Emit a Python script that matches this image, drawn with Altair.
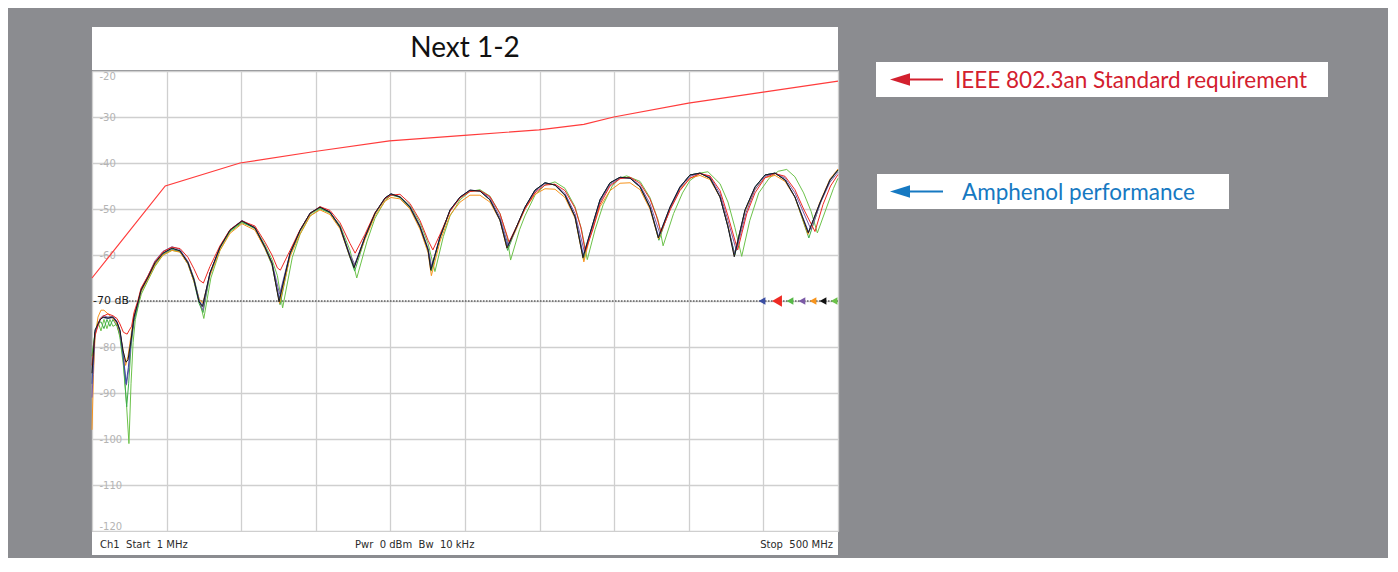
import altair as alt
import pandas as pd

# ---------------- data ----------------
title_text = "Next 1-2"
NB = "\u00a0"
footer_texts = [f"Ch1{NB}{NB}Start{NB}{NB}1 MHz", f"Pwr{NB}{NB}0 dBm{NB}{NB}Bw{NB}{NB}10 kHz", f"Stop{NB}{NB}500 MHz"]
annotation_texts = ["IEEE 802.3an Standard requirement", "Amphenol performance"]
annotation_colors = ["#d3202e", "#1679c2"]

ref_level = [-70]
ref_label = ["-70 dB"]

marker_freqs = [449.2, 459.2, 467.9, 475.9, 483.3, 490.0, 497.4]
marker_colors = ["#3b4ea3", "#ee2a24", "#56b947", "#7b5aa6", "#f7941d", "#111111", "#6cc24a"]
marker_sizes = [60, 130, 60, 60, 60, 60, 60]

y_ticks = [-120, -110, -100, -90, -80, -70, -60, -50, -40, -30, -20]
x_grid = [1, 50.9, 100.8, 150.7, 200.6, 250.5, 300.4, 350.3, 400.2, 450.1, 500]

limit_freqs = [1, 50, 100, 150, 200, 250, 300, 330, 350, 400, 450, 500]
limit_db = [-65, -45, -40, -37.5, -35.2, -34.0, -32.8, -31.6, -30.0, -27.0, -24.6, -22.2]

trace_green1 = [(1,-82),(3,-77),(5,-74.5),(7,-76.5),(9,-74),(11,-76),(13,-74),(15,-75.5),(17.7,-75),(19.7,-78),(22,-84),(24,-92),(25.7,-101),(27.1,-88),(28.5,-79),(30,-74),(32,-71),(34,-68.5),(38.5,-65.5),(43.1,-62.5),(48.5,-60),(54.5,-59),(59.9,-59.3),(65.2,-61.5),(69.2,-65),(72.6,-69.5),(75.8,-73.8),(80.5,-65),(86.6,-59),(93.3,-55),(101.3,-53),(110,-54),(116.7,-57.8),(121.4,-61),(125,-64.5),(128.5,-71.5),(135,-60.5),(140.2,-55.5),(146.9,-51.5),(153.5,-50),(160.2,-50.8),(166.9,-53.5),(173.6,-59),(178.1,-65),(185,-57),(190.3,-52),(197,-48.2),(201,-47),(207,-47.3),(213.7,-49.2),(220.4,-53),(225.8,-57.5),(230.4,-63.6),(236,-56),(240.5,-51.5),(247.2,-48),(253.8,-46.2),(260.5,-45.8),(267.2,-47.2),(273.9,-51),(278.6,-56),(281,-61.1),(287,-54.5),(290.6,-51.5),(297.3,-47),(304,-44.8),(310.7,-44.1),(317.4,-45.5),(324.1,-49.5),(328.5,-54.5),(332.3,-61),(337.5,-54.5),(343,-49),(349,-45),(354.2,-43.3),(358.6,-42.8),(367.6,-44),(374.2,-47.5),(379.8,-52.5),(383,-58),(390,-51),(396,-46.5),(401,-43.8),(407.7,-42.2),(413,-41.9),(421.1,-44.5),(426.4,-48.5),(431,-54),(435.6,-60.3),(441,-52.5),(447,-46.5),(454,-43.3),(460,-41.8),(465.7,-41.4),(471.2,-43),(477,-46.5),(482,-50.5),(486.2,-55.2),(492,-50),(497,-45.5),(500,-43.3)]

trace_green2 = [(1,-82),(3,-77),(5,-75),(7,-74.5),(9,-76),(11,-74),(13,-75.5),(15,-74),(17.7,-75.5),(19.7,-77.5),(22,-83),(24.2,-93),(25.5,-88),(27.1,-80),(29.1,-74.5),(31.8,-71),(33.8,-68),(38.5,-65),(43.1,-62),(48.5,-59.8),(54.5,-58.8),(59.9,-59.3),(65.2,-62),(69.2,-65.8),(72.6,-70.5),(75.3,-72.5),(79.9,-64.2),(86.6,-58.5),(93.3,-54.8),(101.3,-52.8),(110,-54.3),(116.7,-58.6),(121.4,-62.2),(126.8,-70.8),(133.5,-60),(140.2,-54.9),(146.9,-51.1),(153.5,-49.8),(160.2,-50.9),(166.9,-54.1),(173.6,-60.6),(176.7,-63.5),(183.6,-56.4),(190.3,-51.1),(197,-47.8),(201,-46.9),(207,-47.5),(213.7,-49.7),(220.4,-54),(225.8,-59),(228,-63.5),(233.8,-56.3),(240.5,-50.4),(247.2,-47.5),(253.8,-46),(260.5,-46.1),(267.2,-48),(273.9,-52.4),(279,-59),(284,-54.8),(290.6,-49.7),(297.3,-46),(304,-44.3),(310.7,-44.8),(317.4,-47),(324.1,-51.7),(329.8,-61),(334.1,-55.5),(340.8,-48.2),(347.5,-44.4),(354.2,-43.1),(360.9,-43.3),(367.6,-45.2),(374.2,-49.6),(380.2,-56.8),(387.6,-49.8),(394.3,-45.3),(401,-42.6),(407.7,-42.2),(414.4,-43.3),(421.1,-47.4),(426.4,-53.8),(431,-60),(437.8,-50.4),(444.5,-45.3),(451.2,-42.6),(457.9,-42.2),(464.6,-43.7),(471.2,-47.4),(480.5,-56.3),(487.9,-48.9),(494.6,-43.8),(500,-41.6)]

trace_orange = [(1,-98),(2,-86),(3,-78),(5,-73.5),(7,-72),(9,-72),(11.7,-72.8),(15,-73.8),(17.7,-75),(19.7,-77),(21.7,-80.5),(23.5,-84),(25.1,-82),(27.1,-77.5),(29.1,-73),(31.8,-70.5),(33.8,-68),(38.5,-65.2),(43.1,-62.2),(48.5,-60),(54.5,-59),(59.9,-59.4),(65.2,-62),(69.2,-65.8),(72.6,-69.5),(75,-70.5),(79.9,-64.5),(86.6,-59),(93.3,-55.3),(101.3,-53.2),(110,-54.6),(116.7,-58.6),(121.4,-62),(126.5,-70.5),(133.5,-60.3),(140.2,-55.4),(146.9,-51.5),(153.5,-50.2),(160.2,-51.2),(166.9,-54.3),(173.6,-60.5),(176.5,-62.5),(183.6,-56.6),(190.3,-51.5),(197,-48.3),(201,-47.5),(207,-47.8),(213.7,-50),(220.4,-54.4),(225.8,-59.5),(228,-64.5),(233.8,-57),(240.5,-51.3),(247.2,-48.5),(253.8,-47),(260.5,-47),(267.2,-48.5),(273.9,-52.5),(278.5,-58.5),(284,-55),(290.6,-50),(297.3,-46.8),(304,-45.6),(310.7,-45.7),(317.4,-47.5),(324.1,-52),(330,-61.5),(334.1,-56),(340.8,-49.5),(347.5,-46),(354.2,-44.4),(360.9,-44.3),(367.6,-45.8),(374.2,-50),(380,-56.5),(387.6,-50),(394.3,-45.8),(401,-43.3),(407.7,-42.7),(414.4,-43.6),(421.1,-47.5),(426.4,-53.5),(430.5,-60),(437.8,-50.5),(444.5,-45.7),(451.2,-43.2),(457.9,-42.7),(464.6,-44),(471.2,-47.5),(480,-55.5),(487.9,-48.5),(494.6,-43.5),(500,-41.3)]

trace_purple = [(1,-91),(2,-84),(3,-77),(6.4,-73.8),(8.4,-73.2),(11.7,-73.5),(15,-73.3),(17.7,-74.4),(19.7,-76.5),(21.7,-81),(24,-88.3),(25.5,-85),(27.1,-79),(29.1,-73.8),(31.8,-70.3),(33.8,-67.5),(38.5,-64.5),(43.1,-61.3),(48.5,-59.2),(54.5,-58.2),(59.9,-58.8),(65.2,-61.4),(69.2,-65.2),(72.6,-69.8),(75.2,-72),(79.9,-64),(86.6,-58.3),(93.3,-54.5),(101.3,-52.5),(110,-54),(116.7,-58.2),(121.4,-61.6),(126.5,-68.5),(133.5,-59.6),(140.2,-54.6),(146.9,-50.9),(153.5,-49.5),(160.2,-50.6),(166.9,-53.8),(173.6,-60),(176.8,-62),(183.6,-56),(190.3,-50.9),(197,-47.6),(201,-46.8),(207,-47.3),(213.7,-49.4),(220.4,-53.6),(225.8,-58.5),(228.2,-62.5),(233.8,-56),(240.5,-50.3),(247.2,-47.4),(253.8,-46),(260.5,-46),(267.2,-47.6),(273.9,-51.8),(279.5,-58),(284.5,-54.3),(290.6,-49.8),(297.3,-46.2),(304,-44.5),(310.7,-44.7),(317.4,-46.6),(324.1,-51),(330.5,-59.5),(335,-54.8),(340.8,-48.5),(347.5,-44.7),(354.2,-43.3),(360.9,-43.2),(367.6,-44.9),(374.2,-48.8),(381,-55.5),(388,-49.8),(394.3,-45.5),(401,-42.9),(407.7,-42.2),(414.4,-43),(421.1,-46.7),(426.4,-52.5),(432,-59),(438.5,-50.8),(444.5,-45.8),(451.2,-42.9),(457.9,-42.2),(464.6,-43.3),(471.2,-46.5),(482,-54.5),(488.5,-48.5),(494.6,-44.2),(500,-42)]

trace_blue = [(1,-88),(2,-82),(3,-76.8),(6.4,-74),(8.4,-73.6),(11.7,-73.8),(15,-73.6),(17.7,-74.7),(19.7,-76.6),(21.7,-81.5),(23.8,-88),(25.3,-84.5),(27.1,-78.8),(29.1,-73.6),(31.8,-70.3),(33.8,-67.7),(38.5,-64.8),(43.1,-61.7),(48.5,-59.6),(54.5,-58.6),(59.9,-59.1),(65.2,-61.7),(69.2,-65.4),(72.6,-70),(75,-71),(79.9,-63.9),(86.6,-58.3),(93.3,-54.6),(101.3,-52.6),(110,-54.1),(116.7,-58.3),(121.4,-61.8),(126.2,-69.5),(133.5,-59.6),(140.2,-54.6),(146.9,-50.9),(153.5,-49.6),(160.2,-50.7),(166.9,-53.9),(173.6,-60.4),(176.4,-62.5),(183.6,-56.1),(190.3,-50.9),(197,-47.6),(201,-46.7),(207,-47.4),(213.7,-49.6),(220.4,-53.9),(225.8,-58.9),(227.8,-63),(233.8,-56.1),(240.5,-50.2),(247.2,-47.4),(253.8,-45.9),(260.5,-46.1),(267.2,-48),(273.9,-52.4),(278.8,-58),(284,-54.6),(290.6,-49.6),(297.3,-45.9),(304,-44.3),(310.7,-44.8),(317.4,-47),(324.1,-51.7),(329.6,-60),(334.1,-55.3),(340.8,-48),(347.5,-44.3),(354.2,-43.1),(360.9,-43.3),(367.6,-45.2),(374.2,-49.6),(380,-56),(387.6,-49.6),(394.3,-45.2),(401,-42.6),(407.7,-42.2),(414.4,-43.3),(421.1,-47.4),(426.4,-53.9),(430.8,-59.8),(437.8,-50.2),(444.5,-45.2),(451.2,-42.6),(457.9,-42.2),(464.6,-43.7),(471.2,-47.4),(480.3,-55),(487.9,-48.7),(494.6,-43.7),(500,-41.5)]

trace_red = [(1,-84),(3,-77.5),(6.4,-74),(8.4,-73.3),(11.7,-72.8),(15,-73.2),(17.7,-73.8),(19.7,-75),(22,-76.8),(24.5,-77.2),(26,-76.3),(27.5,-75.5),(29.1,-72.5),(31.8,-69.8),(33.8,-67.2),(38.5,-64.5),(43.1,-61.5),(48.5,-59.3),(54.5,-58.3),(59.9,-58.6),(65.2,-60.5),(69.2,-63),(72.6,-65.4),(75.5,-66.1),(79.9,-62.5),(86.6,-58),(93.3,-54.5),(101.3,-52.6),(110,-53.7),(116.7,-57.2),(121.4,-60),(125,-62.8),(127,-63.3),(133.5,-59),(140.2,-54.5),(146.9,-51),(153.5,-49.5),(160.2,-50.3),(166.9,-53),(173.6,-57.5),(177,-59.6),(183.6,-55.5),(190.3,-50.8),(197,-47.8),(201,-47),(207,-46.8),(213.7,-48.8),(220.4,-52.5),(225.8,-56.8),(229,-58.9),(233.8,-55.5),(240.5,-50.5),(247.2,-47.6),(253.8,-46.2),(260.5,-46),(267.2,-47.3),(273.9,-51),(280,-57.2),(285,-53.8),(290.6,-50),(297.3,-46.5),(304,-44.8),(310.7,-44.6),(317.4,-46),(324.1,-49.8),(328,-54),(331,-59.2),(336,-54.5),(340.8,-49),(347.5,-45),(354.2,-43.4),(360.9,-43.1),(367.6,-44.4),(374.2,-47.8),(378.5,-51.5),(381.6,-55),(388,-50),(394.3,-46),(401,-43.3),(407.7,-42.3),(414.4,-42.8),(421.1,-46),(426.4,-51.5),(432.9,-58.9),(439,-51),(444.5,-46.5),(451.2,-43.2),(457.9,-42.3),(464.6,-42.9),(471.2,-45.8),(477,-50),(484.6,-54.9),(490,-49),(495,-45),(500,-42.5)]

trace_black = [(1,-85.7),(3,-76.3),(6.4,-74.1),(8.4,-73.5),(11.7,-73.7),(15,-73.5),(17.7,-74.6),(19.7,-76.3),(21.7,-80.7),(23.7,-83.3),(25.1,-82.8),(27.1,-78.5),(29.1,-73.5),(31.8,-70.2),(33.8,-67.6),(38.5,-64.8),(43.1,-61.7),(48.5,-59.6),(54.5,-58.5),(59.9,-59.1),(65.2,-61.7),(69.2,-65.4),(72.6,-70.2),(75,-71.2),(79.9,-63.9),(86.6,-58.3),(93.3,-54.6),(101.3,-52.6),(110,-54.1),(116.7,-58.3),(121.4,-61.8),(126.1,-70.2),(133.5,-59.6),(140.2,-54.6),(146.9,-50.9),(153.5,-49.6),(160.2,-50.7),(166.9,-53.9),(173.6,-60.4),(176.3,-62.8),(183.6,-56.1),(190.3,-50.9),(197,-47.6),(201,-46.7),(207,-47.4),(213.7,-49.6),(220.4,-53.9),(225.8,-58.9),(227.6,-63.3),(233.8,-56.1),(240.5,-50.2),(247.2,-47.4),(253.8,-45.9),(260.5,-46.1),(267.2,-48.0),(273.9,-52.4),(278.6,-58.5),(284,-54.6),(290.6,-49.6),(297.3,-45.9),(304,-44.3),(310.7,-44.8),(317.4,-47.0),(324.1,-51.7),(329.4,-60.6),(334.1,-55.3),(340.8,-48.0),(347.5,-44.3),(354.2,-43.1),(360.9,-43.3),(367.6,-45.2),(374.2,-49.6),(379.8,-56.3),(387.6,-49.6),(394.3,-45.2),(401,-42.6),(407.7,-42.2),(414.4,-43.3),(421.1,-47.4),(426.4,-53.9),(430.6,-60.4),(437.8,-50.2),(444.5,-45.2),(451.2,-42.6),(457.9,-42.2),(464.6,-43.7),(471.2,-47.4),(480.1,-55.2),(487.9,-48.7),(494.6,-43.7),(500,-41.5)]

traces = [
    ("green1", "#6cc24a", trace_green1),
    ("green2", "#3fae49", trace_green2),
    ("orange", "#f7941d", trace_orange),
    ("purple", "#7b5aa6", trace_purple),
    ("blue", "#3b4ea3", trace_blue),
    ("red", "#ee2a24", trace_red),
    ("black", "#1a1a1a", trace_black),
]

# ---------------- layout ----------------
W, H = 746, 460
PAD_L, PAD_T = 84, 63
TOTAL_W, TOTAL_H = 1380, 550

xs = alt.Scale(domain=[1, 500], nice=False, zero=False)
ys = alt.Scale(domain=[-120, -20], nice=False, zero=False)
xaxis = alt.Axis(values=x_grid, labels=False, ticks=False, domain=False, grid=True,
                 gridColor="#cfcfcf", gridWidth=1.3, title="")
yaxis = alt.Axis(values=y_ticks, ticks=False, domain=False, grid=True, gridColor="#cfcfcf",
                 gridWidth=1.3, labelAlign="left", labelPadding=-7, labelFlush=True,
                 labelExpr="datum.value == -70 ? '' : '-' + abs(datum.value)",
                 labelColor="#b4b4b4", labelFontSize=10, labelFont="DejaVu Sans", title="")


def X(field):
    return alt.X(field, scale=xs, axis=xaxis)


def Y(field):
    return alt.Y(field, scale=ys, axis=yaxis)


one = pd.DataFrame({"k": [0]})

layers = []

# white panel strips above and below the plot area
layers.append(alt.Chart(one).mark_rect(color="white").encode(
    x=alt.value(0), x2=alt.value(W), y=alt.value(-44), y2=alt.value(-1)))
layers.append(alt.Chart(one).mark_rect(color="white").encode(
    x=alt.value(0), x2=alt.value(W), y=alt.value(H + 1), y2=alt.value(H + 24)))

# title
layers.append(alt.Chart(pd.DataFrame({"t": [title_text]})).mark_text(
    font="Lato", fontSize=28, color="#111111", align="center", baseline="middle").encode(
    x=alt.value(W / 2), y=alt.value(-22), text="t:N"))

# footer texts
foot_df = pd.DataFrame({"t": footer_texts})
for i, (xpos, al) in enumerate([(8, "left"), (263, "left"), (741, "right")]):
    layers.append(alt.Chart(foot_df.iloc[[i]]).mark_text(
        font="DejaVu Sans", fontSize=10, color="#2a2a2a", align=al, baseline="middle").encode(
        x=alt.value(xpos), y=alt.value(H + 14), text="t:N"))

# limit line
limit_df = pd.DataFrame({"f": limit_freqs, "db": limit_db})
layers.append(alt.Chart(limit_df).mark_line(color="#ff3c3c", strokeWidth=1.2).encode(
    x=X("f:Q"), y=Y("db:Q")))

# reference level dotted line and label
ref_df = pd.DataFrame({"db": ref_level, "label": ref_label})
layers.append(alt.Chart(ref_df).mark_rule(color="#222222", strokeWidth=1, strokeDash=[1.5, 1.5]).encode(
    x=alt.value(34), x2=alt.value(W), y=Y("db:Q")))
layers.append(alt.Chart(ref_df).mark_text(
    font="DejaVu Sans", fontSize=11, color="#1a1a1a", align="left", baseline="middle").encode(
    x=alt.value(1), y=Y("db:Q"), text="label:N"))

# measured traces
for name, col, pts in traces:
    df = pd.DataFrame(pts, columns=["f", "db"])
    layers.append(alt.Chart(df).mark_line(color=col, strokeWidth=1.0).encode(
        x=X("f:Q"), y=Y("db:Q")))

# reference markers
mk_df = pd.DataFrame({"f": marker_freqs, "db": ref_level * len(marker_freqs),
                      "c": marker_colors, "s": marker_sizes})
layers.append(alt.Chart(mk_df).mark_point(shape="triangle-left", filled=True, opacity=1).encode(
    x=X("f:Q"), y=Y("db:Q"), color=alt.Color("c:N", scale=None), size=alt.Size("s:Q", scale=None)))

# annotation boxes
boxes = [(784, 1236, -9, 26), (785, 1137, 103, 138)]
text_x = [863, 870]
for i, (bx1, bx2, by1, by2) in enumerate(boxes):
    cy = (by1 + by2) / 2
    col = annotation_colors[i]
    layers.append(alt.Chart(one).mark_rect(color="white").encode(
        x=alt.value(bx1), x2=alt.value(bx2), y=alt.value(by1), y2=alt.value(by2)))
    layers.append(alt.Chart(one).mark_rule(color=col, strokeWidth=2.2).encode(
        x=alt.value(814), x2=alt.value(851), y=alt.value(cy)))
    layers.append(alt.Chart(one).mark_point(
        shape="M-1,0L1,-0.62L1,0.62Z", filled=True, opacity=1, color=col, size=400).encode(
        x=alt.value(808), y=alt.value(cy)))
    layers.append(alt.Chart(pd.DataFrame({"t": [annotation_texts[i]]})).mark_text(
        font="Lato", fontSize=22.5, color=col, align="left", baseline="middle").encode(
        x=alt.value(text_x[i]), y=alt.value(cy + 1), text="t:N"))

chart = alt.layer(*layers).properties(
    width=W, height=H,
    padding={"left": PAD_L, "top": PAD_T, "right": TOTAL_W - PAD_L - W, "bottom": TOTAL_H - PAD_T - H},
    autosize=alt.AutoSizeParams(type="none"),
    background="#8b8c90",
).configure_view(fill="white", stroke="transparent")

chart.save("out.html", embed_options={"renderer": "svg", "actions": False})
